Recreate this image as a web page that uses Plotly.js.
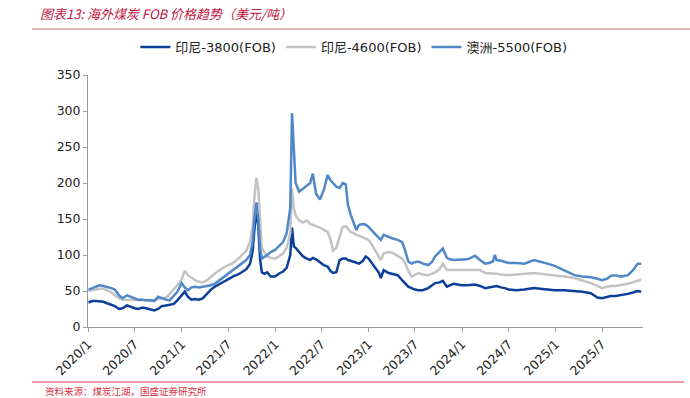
<!DOCTYPE html>
<html>
<head>
<meta charset="utf-8">
<script src="https://cdn.plot.ly/plotly-3.0.1.min.js"></script>
<style>
html,body{margin:0;padding:0;background:#fff;}
#chart{width:690px;height:398px;}
</style>
</head>
<body>
<div id="chart"></div>
<script>
// ---- Data (USD/ton) ----
const dates = [
  // 2020
  '2020-01-03','2020-01-17','2020-02-01','2020-02-15','2020-03-01','2020-03-15','2020-04-01','2020-04-15',
  '2020-05-01','2020-05-15','2020-06-01','2020-06-15','2020-07-01','2020-07-15','2020-08-01','2020-08-15',
  '2020-09-01','2020-09-15','2020-10-01','2020-10-15','2020-11-01','2020-11-15','2020-12-01','2020-12-15',
  // 2021
  '2021-01-01','2021-01-13','2021-01-25','2021-02-08','2021-02-22','2021-03-10','2021-03-25','2021-04-10',
  '2021-04-25','2021-05-10','2021-05-25','2021-06-10','2021-06-25','2021-07-10','2021-07-25','2021-08-10',
  '2021-08-25','2021-09-10','2021-09-25','2021-10-05','2021-10-12','2021-10-20','2021-10-27','2021-11-03',
  '2021-11-10','2021-11-20','2021-12-01','2021-12-15',
  // 2022
  '2022-01-01','2022-01-15','2022-02-01','2022-02-15','2022-03-01','2022-03-08','2022-03-15','2022-03-22',
  '2022-04-05','2022-04-20','2022-05-05','2022-05-18','2022-05-28','2022-06-10','2022-06-25','2022-07-10',
  '2022-07-25','2022-08-05','2022-08-15','2022-08-28','2022-09-10','2022-09-22','2022-10-04','2022-10-12',
  '2022-10-23','2022-11-05','2022-11-14','2022-11-25','2022-12-10','2022-12-21',
  // 2023
  '2023-01-01','2023-01-16','2023-01-29','2023-02-11','2023-02-18','2023-03-01','2023-03-20','2023-04-05',
  '2023-04-25','2023-05-12','2023-05-25','2023-06-05','2023-06-18','2023-07-01','2023-07-15','2023-08-01',
  '2023-08-22','2023-09-05','2023-09-18','2023-10-05','2023-10-18','2023-11-03','2023-11-15','2023-11-28',
  '2023-12-15',
  // 2024
  '2024-01-01','2024-01-20','2024-02-05','2024-02-21','2024-03-11','2024-04-01','2024-04-15','2024-05-01',
  '2024-05-08','2024-05-15','2024-06-01','2024-06-17','2024-07-01','2024-08-01','2024-09-01','2024-10-08',
  '2024-11-01','2024-11-29','2024-12-28',
  // 2025
  '2025-02-04','2025-03-15','2025-04-15','2025-05-18','2025-06-13','2025-07-01','2025-07-20','2025-08-04',
  '2025-08-22','2025-09-12','2025-10-10','2025-10-30','2025-11-17','2025-12-01'
];

const indo3800 = [
  34,36,36,36,35,33,31,29, 25,26,30,28,26,25,27,26, 24,23,25,29,30,31,32,37,
  44,49,42,38,39,38,40,46, 52,56,59,63,65,68,71,73, 76,80,88,105,135,165,140,95, 76,74,76,70,
  70,74,77,82,100,138,112,110, 104,98,95,93,96,94,90,86, 84,78,75,76,93,95,95,93, 92,90,89,88,92,98,
  95,88,82,75,68,79,75,74, 72,65,60,56,54,52,51,51, 54,57,61,62,64,56,58,60, 59,
  58,58,58,59,57,54,55,56, 57,57,55,54,52,51,52,54, 53,52,51,
  51,50,49,47,41,40,42,43, 43,44,46,48,50,49
];

const indo4600 = [
  50,51,52,53,53,51,48,44, 40,38,38,38,37,37,37,37, 36,37,38,40,41,46,52,58,
  66,78,72,68,65,63,62,65, 70,74,78,82,85,87,90,95, 100,106,118,140,180,207,192,145, 110,104,98,96,
  95,98,102,110,130,192,165,155, 148,145,148,143,142,140,138,135, 132,122,106,110,125,139,140,136, 132,130,128,127,125,123,
  121,113,105,96,93,102,104,103, 99,95,88,78,70,73,75,73, 72,74,76,80,88,79,79,79, 79,
  79,79,80,80,79,75,75,74, 74,74,73,72,72,73,74,75, 74,73,72,
  70,68,65,61,57,54,56,57, 57,58,60,62,64,66
];

const aus5500 = [
  52,54,56,58,57,56,54,52, 44,40,44,42,40,38,38,37, 37,36,42,40,38,37,44,49,
  61,55,51,55,56,55,56,57, 58,60,64,68,72,76,80,84, 88,93,100,118,150,173,150,110, 95,97,100,104,
  107,112,118,130,165,297,245,200, 188,192,196,200,213,185,177,190, 211,204,200,195,193,200,198,170, 156,144,135,142,143,142,
  139,133,128,124,121,128,125,123, 121,118,105,91,88,90,91,88, 86,90,98,104,109,96,94,93, 93,
  93,94,96,99,93,88,89,91, 100,93,92,90,89,89,88,93, 91,88,85,
  79,72,70,69,67,65,67,71, 72,70,72,79,88,88
];

const seriesNames = ['印尼-3800(FOB)', '印尼-4600(FOB)', '澳洲-5500(FOB)'];
const tickVals = ['2020-01-01','2020-07-01','2021-01-01','2021-07-01','2022-01-01','2022-07-01',
                  '2023-01-01','2023-07-01','2024-01-01','2024-07-01','2025-01-01','2025-07-01'];
const tickText = ['2020/1','2020/7','2021/1','2021/7','2022/1','2022/7',
                  '2023/1','2023/7','2024/1','2024/7','2025/1','2025/7'];

// ---- Chart ----
const FONT = 'DejaVu Sans, "Noto Sans CJK SC", sans-serif';
const colors = ['#0b3f99', '#c3c3c3', '#4f87c8'];
const ys = [indo3800, indo4600, aus5500];

const traces = ys.map((y, i) => ({
  type: 'scatter', mode: 'lines',
  x: dates, y: y, name: seriesNames[i],
  line: {color: colors[i], width: 2.5},
  hoverinfo: 'skip'
}));

const layout = {
  width: 690, height: 398,
  margin: {l: 88, r: 47, t: 75, b: 71},
  paper_bgcolor: '#ffffff', plot_bgcolor: '#ffffff',
  font: {family: FONT, size: 12.5, color: '#222'},
  showlegend: true,
  legend: {
    orientation: 'h', x: 0.479, xanchor: 'center', y: 1.111, yanchor: 'middle',
    font: {family: FONT, size: 13, color: '#222'},
    itemwidth: 30, tracegroupgap: 0, bgcolor: 'rgba(0,0,0,0)'
  },
  title: {
    text: '<i>图表13: 海外煤炭 FOB 价格趋势（美元/吨）</i>',
    font: {family: '"Noto Sans CJK SC", DejaVu Sans, sans-serif', size: 13, color: '#c0143c'},
    xref: 'container', yref: 'container', x: 40/690, xanchor: 'left', y: 1 - 14/398, yanchor: 'middle'
  },
  xaxis: {
    type: 'date',
    range: ['2020-01-01', '2025-12-08'],
    tickmode: 'array', tickvals: tickVals, ticktext: tickText,
    tickangle: -45,
    ticks: 'outside', ticklen: 4, tickcolor: '#999', tickwidth: 1,
    showline: true, linecolor: '#999', linewidth: 1,
    showgrid: false, zeroline: false,
    tickfont: {family: FONT, size: 12.5, color: '#222'}
  },
  yaxis: {
    range: [0, 350], tickmode: 'array', tickvals: [0,50,100,150,200,250,300,350],
    ticks: 'outside', ticklen: 4, tickcolor: '#999', tickwidth: 1,
    showline: true, linecolor: '#999', linewidth: 1,
    showgrid: false, zeroline: false,
    tickfont: {family: FONT, size: 12.5, color: '#222'}
  },
  shapes: [
    {type: 'line', xref: 'paper', yref: 'paper', x0: (32-88)/555, x1: (690-88)/555,
     y0: (327-29)/252, y1: (327-29)/252, line: {color: '#e39a9a', width: 1.5}},
    {type: 'line', xref: 'paper', yref: 'paper', x0: (32-88)/555, x1: (684-88)/555,
     y0: (327-382)/252, y1: (327-382)/252, line: {color: '#d9323f', width: 1.2}}
  ],
  annotations: [
    {text: '资料来源：煤炭江湖，国盛证券研究所', xref: 'paper', yref: 'paper',
     x: (44-88)/555, xanchor: 'left', y: (327-382.5)/252, yanchor: 'top', showarrow: false,
     borderpad: 0,
     font: {family: '"Noto Sans CJK SC", sans-serif', size: 9.5, color: '#d9323f'}}
  ]
};

Plotly.newPlot('chart', traces, layout, {staticPlot: true, displayModeBar: false});
</script>
</body>
</html>
